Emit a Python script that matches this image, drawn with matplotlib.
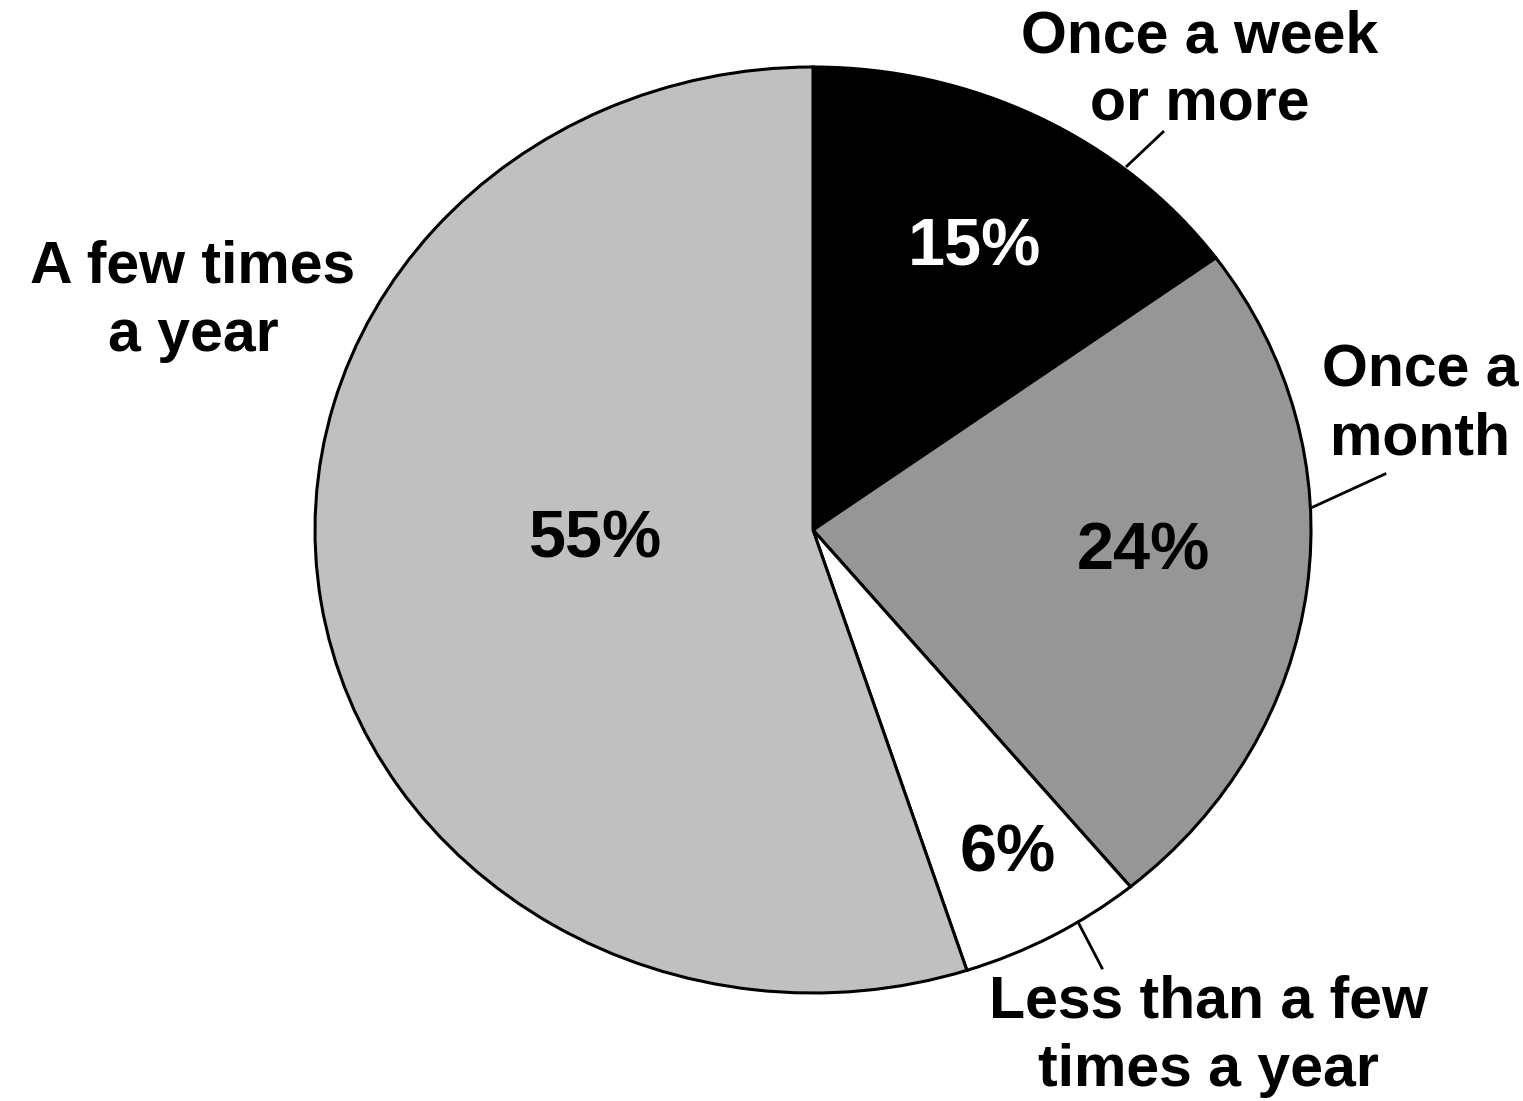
import matplotlib
matplotlib.use('Agg')
import matplotlib.pyplot as plt

# data, clockwise from 12 o'clock
categories = ['Once a week\nor more', 'Once a\nmonth',
              'Less than a few\ntimes a year', 'A few times\na year']
shares = [15, 24, 6, 55]
colors = ['#000000', '#969696', '#ffffff', '#c0c0c0']
pct_colors = ['white', 'black', 'black', 'black']

W, H = 1523, 1101
CX, CY, RX, RY = 813, 530, 498, 463   # pie ellipse in pixels


def px(x, y):
    # pixel position -> pie data coords
    return (x - CX) / RX, (CY - y) / RY


fig = plt.figure(figsize=(W / 100, H / 100), dpi=100)
ax = fig.add_axes([(CX - RX) / W, 1 - (CY + RY) / H, 2 * RX / W, 2 * RY / H])

ax.pie(shares, colors=colors, startangle=90, counterclock=False,
       wedgeprops=dict(edgecolor='black', linewidth=2.2))
ax.set_aspect('auto')
ax.set_xlim(-1, 1)
ax.set_ylim(-1, 1)
ax.axis('off')

font = dict(family=['Liberation Sans', 'DejaVu Sans'], fontweight='bold')

pct_pos = [(974, 248), (1143, 553), (1008, 855), (596, 541)]
for s, c, (x, y) in zip(shares, pct_colors, pct_pos):
    ax.text(*px(x, y), f'{s}%', color=c, fontsize=48,
            ha='center', va='center', **font)

label_pos = [(1200, 71), (1420, 405), (1208, 1036), (193, 301)]
for lab, (x, y) in zip(categories, label_pos):
    ax.text(*px(x, y), lab, fontsize=42.5, ha='center', va='center',
            linespacing=1.32, clip_on=False, **font)

# leader lines
leaders = [((1127, 166), (1163, 132)),
           ((1313, 507), (1385, 474)),
           ((1078, 922), (1102, 968))]
for (x0, y0), (x1, y1) in leaders:
    a, b = px(x0, y0), px(x1, y1)
    ax.plot([a[0], b[0]], [a[1], b[1]], color='black', lw=2,
            clip_on=False)

fig.savefig('out.png', dpi=100)
